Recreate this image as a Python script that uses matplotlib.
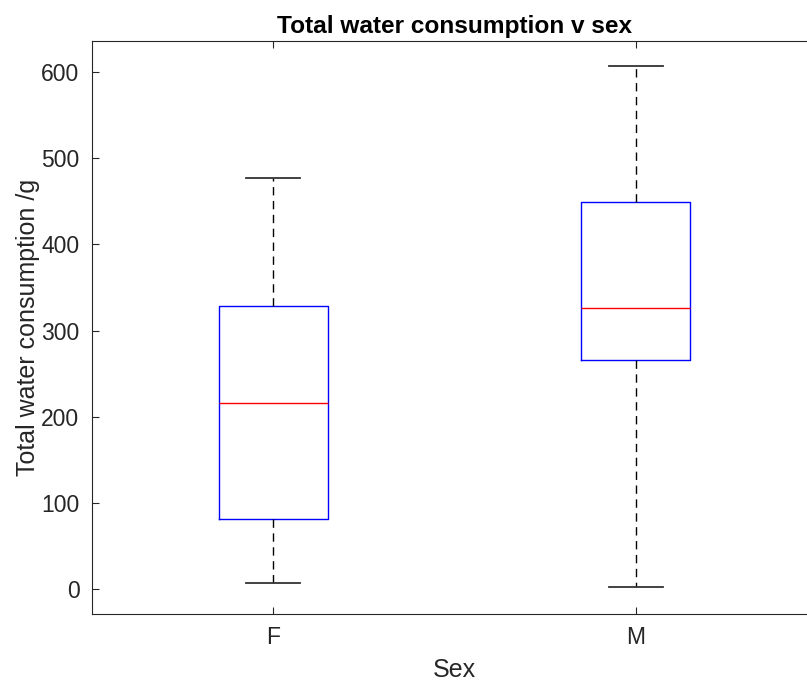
import matplotlib
matplotlib.use('Agg')
import matplotlib.pyplot as plt

plt.rcParams['font.family'] = ['Liberation Sans', 'DejaVu Sans']

# box statistics
groups = ['F', 'M']
whislo = [7, 2]
q1 = [81, 266]
med = [216, 326]
q3 = [328, 449]
whishi = [477, 607]

stats = []
for i in range(len(groups)):
    stats.append({'label': groups[i], 'whislo': whislo[i], 'q1': q1[i], 'med': med[i],
                  'q3': q3[i], 'whishi': whishi[i], 'fliers': []})

dark = '#262626'
fig = plt.figure(figsize=(8.07, 6.81), dpi=100)
ax = fig.add_axes([0.114, 0.0984, 0.8984, 0.8414])

ax.bxp(stats, positions=[1, 2], widths=0.3, showfliers=False,
       boxprops=dict(color='blue', lw=1),
       medianprops=dict(color='red', lw=1),
       whiskerprops=dict(color='black', lw=1, linestyle=(0, (6, 4))),
       capprops=dict(color='#333333', lw=1.3), capwidths=0.15)

ax.set_xlim(0.5, 2.5)
ax.set_ylim(-29, 636)
ax.set_yticks([0, 100, 200, 300, 400, 500, 600])
ax.tick_params(direction='in', top=True, right=True, labelsize=16.5, colors=dark, length=5)
ax.tick_params(axis='y', pad=9)
ax.tick_params(axis='x', pad=9)
for s in ax.spines.values():
    s.set_color(dark)
    s.set_linewidth(0.8)

ax.set_title('Total water consumption v sex', fontsize=17.6, fontweight='bold', color='black', pad=6)
ax.set_xlabel('Sex', fontsize=18, color=dark, labelpad=6)
ax.set_ylabel('Total water consumption /g', fontsize=18, color=dark, labelpad=1)

fig.savefig('out.png', dpi=100)
